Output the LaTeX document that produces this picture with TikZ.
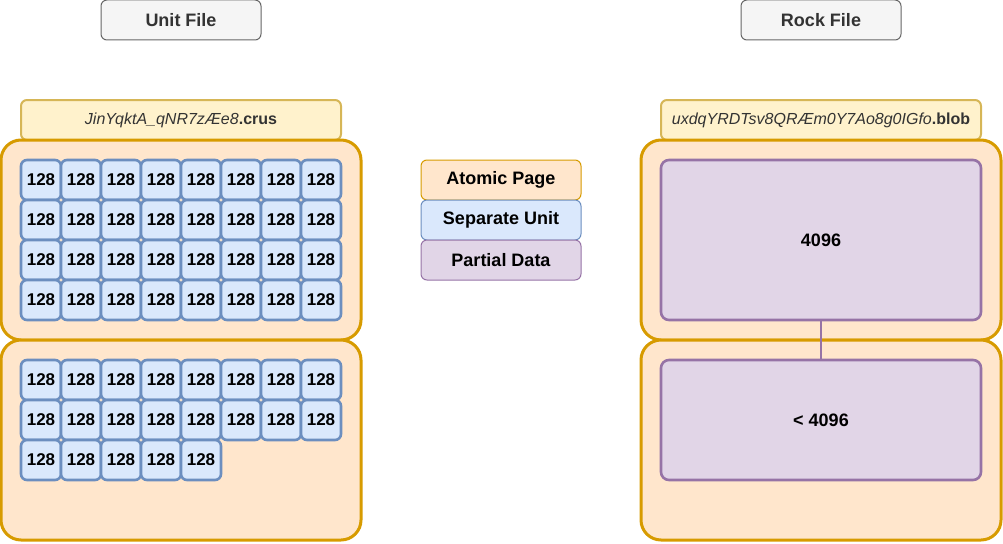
\documentclass[tikz,border=0pt]{standalone}
\usepackage{fontspec}
\setmainfont{Liberation Sans}
\definecolor{titlefill}{HTML}{F5F5F5}
\definecolor{titledraw}{HTML}{666666}
\definecolor{titletext}{HTML}{333333}
\definecolor{lblfill}{HTML}{FFF2CC}
\definecolor{lbldraw}{HTML}{D6B656}
\definecolor{pagefill}{HTML}{FFE6CC}
\definecolor{pagedraw}{HTML}{D79B00}
\definecolor{unitfill}{HTML}{DAE8FC}
\definecolor{unitdraw}{HTML}{6C8EBF}
\definecolor{partfill}{HTML}{E1D5E7}
\definecolor{partdraw}{HTML}{9673A6}
\tikzset{
  base/.style={inner sep=0pt, outer sep=0pt, font=\fontsize{18}{21}\selectfont},
  titlebox/.style={base, draw=titledraw, fill=titlefill, text=titletext, line width=1pt, rounded corners=6pt, minimum width=160pt, minimum height=40pt, font=\fontsize{18}{21}\selectfont\bfseries},
  lblbox/.style={base, draw=lbldraw, fill=lblfill, text=titletext, line width=2pt, rounded corners=6pt, minimum width=320pt, minimum height=40pt, font=\fontsize{16}{19}\selectfont},
  pagebox/.style={base, draw=pagedraw, fill=pagefill, line width=3pt, rounded corners=20pt, minimum width=360pt, minimum height=200pt},
  unitbox/.style={base, draw=unitdraw, fill=unitfill, line width=2.6pt, rounded corners=6pt, minimum width=40pt, minimum height=40pt, font=\fontsize{17}{20}\selectfont\bfseries},
  partbox/.style={base, draw=partdraw, fill=partfill, line width=2.6pt, rounded corners=8pt, minimum width=320pt, font=\fontsize{18}{21}\selectfont\bfseries},
  legbox/.style={base, line width=1pt, rounded corners=6pt, minimum width=160pt, minimum height=40pt, font=\fontsize{18}{21}\selectfont\bfseries},
  link/.style={draw=partdraw, line width=2.6pt}
}
\begin{document}
\begin{tikzpicture}[x=1pt,y=-1pt]
\useasboundingbox (0,0) rectangle (1003,543);
% titles
\node[titlebox] (tu) at (181,20) {Unit File};
\node[titlebox] (tr) at (821,20) {Rock File};
% left file
\node[lblbox] (lu) at (181,120) {\textit{JinYqktA\_qNR7zÆe8}\textbf{.crus}};
\node[pagebox] (lp1) at (181,240) {};
\node[pagebox] (lp2) at (181,440) {};
\foreach \r in {0,...,3}{
  \foreach \c in {0,...,7}{
    \node[unitbox] (ua\r\c) at (41+40*\c,180+40*\r) {128};
  }
}
\foreach \r in {0,1}{
  \foreach \c in {0,...,7}{
    \node[unitbox] (ub\r\c) at (41+40*\c,380+40*\r) {128};
  }
}
\foreach \c in {0,...,4}{
  \node[unitbox] (ub2\c) at (41+40*\c,460) {128};
}
% legend
\node[legbox, draw=pagedraw, fill=pagefill] (la) at (501,180) {Atomic Page};
\node[legbox, draw=unitdraw, fill=unitfill] (ls) at (501,220) {Separate Unit};
\node[legbox, draw=partdraw, fill=partfill] (lpd) at (501,260) {Partial Data};
% right file
\node[lblbox] (lr) at (821,120) {\textit{uxdqYRDTsv8QRÆm0Y7Ao8g0IGfo}\textbf{.blob}};
\node[pagebox] (rp1) at (821,240) {};
\node[pagebox] (rp2) at (821,440) {};
\node[partbox, minimum height=160pt] (pd1) at (821,240) {4096};
\node[partbox, minimum height=120pt] (pd2) at (821,420) {< 4096};
\draw[link] (pd1.south) -- (pd2.north);
\end{tikzpicture}
\end{document}
